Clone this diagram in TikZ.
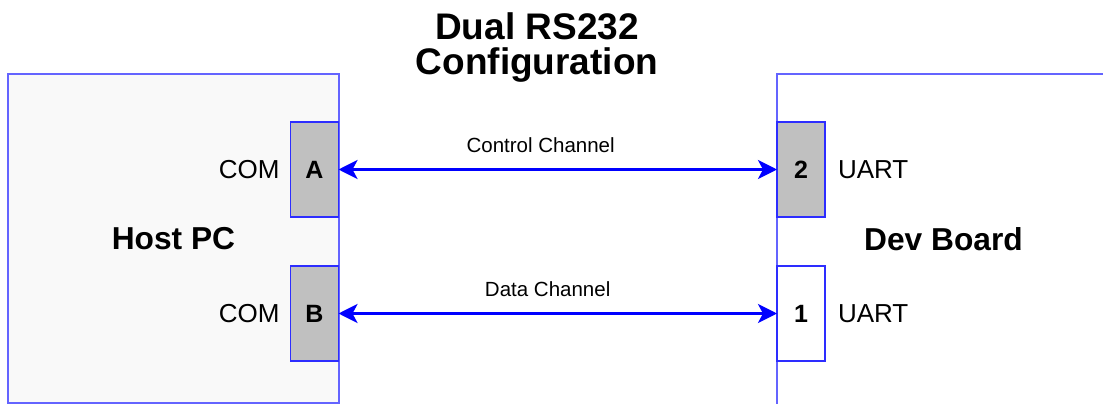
\documentclass[tikz,border=0pt]{standalone}
\usepackage{fontspec}
\setmainfont{Liberation Sans}
\usepackage{tikz}
\usetikzlibrary{arrows.meta,positioning}
\definecolor{boxline}{RGB}{100,100,255}
\definecolor{portline}{RGB}{45,45,255}
\definecolor{pcfill}{RGB}{249,249,249}
\definecolor{portfill}{RGB}{192,192,192}
\tikzstyle{every node}=[inner sep=0pt, outer sep=0pt]
\tikzstyle{unit}=[draw=boxline, line width=1.2pt, font=\fontsize{31.7}{34}\selectfont\bfseries]
\tikzstyle{port}=[draw=portline, line width=1.2pt, minimum width=48pt, minimum height=95pt, font=\fontsize{25}{28}\selectfont\bfseries]
\tikzstyle{portname}=[font=\fontsize{26}{28}\selectfont]
\tikzstyle{chan}=[font=\fontsize{20.5}{24}\selectfont]
\tikzstyle{title}=[font=\fontsize{37}{35}\selectfont\bfseries, align=center]
\tikzstyle{link}=[draw=blue, line width=3pt, {Stealth[length=19pt,width=19pt,inset=5pt]}-{Stealth[length=19pt,width=19pt,inset=5pt]}]

\begin{document}
\begin{tikzpicture}[x=1pt,y=-1pt]
            \useasboundingbox (0,0) rectangle (1103,404);
            \node[title, anchor=north] (title) at (537,13) {Dual RS232\\Configuration};
            \node[unit, fill=pcfill, minimum width=331pt, minimum height=329pt] (host) at (173.5,238.5) {Host PC};
            \node[unit, fill=white, minimum width=333pt, minimum height=331pt] (dev) at (943.5,239.5) {Dev Board};
            \node[port, fill=portfill] (portA) at (314.5,169.5) {A};
            \node[port, fill=portfill] (portB) at (314.5,313.5) {B};
            \node[port, fill=portfill] (port2) at (801,169.5) {2};
            \node[port, fill=white] (port1) at (801,313.5) {1};
            \node[portname, left=11pt of portA] (comA) {COM};
            \node[portname, left=11pt of portB] (comB) {COM};
            \node[portname, right=13pt of port2] (uart2) {UART};
            \node[portname, right=13pt of port1] (uart1) {UART};
            \draw[link] (portA) -- node[chan, above=17pt, pos=0.461] (ctrl) {Control Channel} (port2);
            \draw[link] (portB) -- node[chan, above=17pt, pos=0.477] (data) {Data Channel} (port1);
        \end{tikzpicture}
\end{document}
